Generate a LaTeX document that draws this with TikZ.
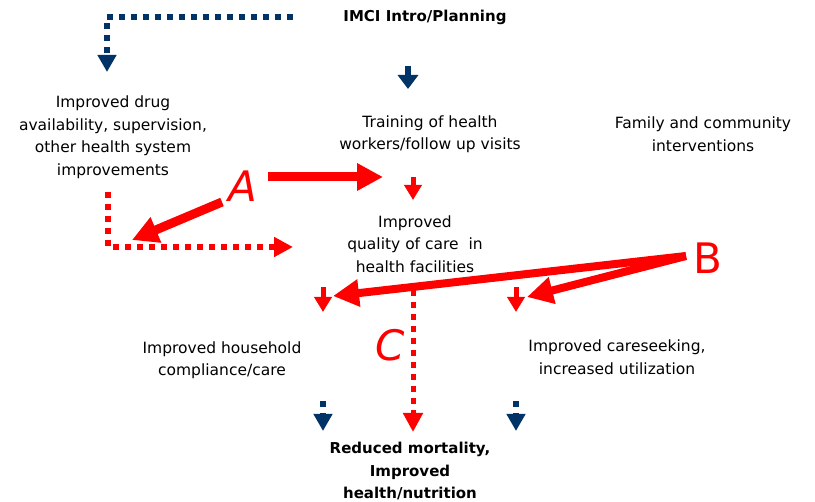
\documentclass[tikz,border=0pt]{standalone}
\usepackage{fontspec}
\setmainfont{DejaVu Sans}
\usetikzlibrary{arrows.meta, positioning}

\definecolor{navy}{RGB}{0,51,102}
\definecolor{imcired}{RGB}{255,0,0}

\tikzset{
  lbl/.style={align=center, inner sep=0pt, font=\fontsize{15.5}{22.5}\selectfont},
  boldlbl/.style={lbl, font=\fontsize{15}{22.5}\selectfont\bfseries},
  letter/.style={inner sep=0pt, text=imcired, font=\fontsize{42}{42}\selectfont},
  % dotted navy and red connectors
  bluedots/.style={draw=navy, line width=6pt, dash pattern=on 6pt off 6pt,
    -{Triangle[length=17pt,width=18pt]}},
  reddots/.style={draw=imcired, line width=6pt, dash pattern=on 6pt off 6pt,
    -{Triangle[length=19pt,width=19pt]}},
  % solid arrows
  bluestub/.style={draw=navy, line width=6pt, -{Triangle[length=14pt,width=20pt]}},
  redstub/.style={draw=imcired, line width=5pt, -{Triangle[length=15pt,width=17pt]}},
  redfat/.style={draw=imcired, line width=9pt, -{Triangle[length=26pt,width=26pt]}}
}

\begin{document}
\begin{tikzpicture}[x=1pt, y=-1pt]
\useasboundingbox (0,0) rectangle (815,502);

% Boxes of the framework
\node[boldlbl] (intro) at (425,17) {IMCI Intro/Planning};
\node[lbl] (drug) at (113,137) {Improved drug\\availability, supervision,\\other health system\\improvements};
\node[lbl] (training) at (430,134) {Training of health\\workers/follow up visits};
\node[lbl] (family) at (703,134) {Family and community\\interventions};
\node[lbl] (quality) at (415,244) {Improved\\quality of care\ \ in\\health facilities};
\node[lbl] (household) at (222,360) {Improved household\\compliance/care};
\node[lbl] (careseek) at (617,357) {Improved careseeking,\\increased utilization};
\node[boldlbl] (outcome) at (410,471) {Reduced mortality,\\Improved\\health/nutrition};

% Big letters
\node[letter, font=\fontsize{42}{42}\selectfont\itshape] (A) at (243,186) {A};
\node[letter] (B) at (708,258) {B};
\node[letter, font=\fontsize{42}{42}\selectfont\itshape] (C) at (390,345) {C};

% End points of the arrows
\coordinate (introL) at (293,17);
\coordinate (drugIn) at (107,72);
\coordinate (trainTop) at (408,66);
\coordinate (trainIn) at (408,89);
\coordinate (qualTop) at (413,177);
\coordinate (qualIn) at (413,200);
\coordinate (drugOut) at (108,192);
\coordinate (qualLeft) at (293,247);
\coordinate (Aright) at (268,177);
\coordinate (trainLeft) at (383,177);
\coordinate (Aleft) at (222,202);
\coordinate (drugCorner) at (132,240);
\coordinate (Btip) at (686,256);
\coordinate (Bhold) at (333,296);
\coordinate (Bcare) at (527,297);
\coordinate (holdTop) at (323,287);
\coordinate (holdIn) at (323,312);
\coordinate (careTop) at (516,287);
\coordinate (careIn) at (516,312);
\coordinate (qualOut) at (413,290);
\coordinate (outIn) at (413,432);
\coordinate (holdOut) at (323,401);
\coordinate (outLeft) at (323,431);
\coordinate (careOut) at (516,401);
\coordinate (outRight) at (516,431);

% Navy flow
\draw[bluedots] (introL) -| (drugIn);
\draw[bluestub] (trainTop) -- (trainIn);
\draw[bluedots] (holdOut) -- (outLeft);
\draw[bluedots] (careOut) -- (outRight);

% Red flow
\draw[redstub] (qualTop) -- (qualIn);
\draw[reddots] (drugOut) |- (qualLeft);
\draw[redfat] (Aright) -- (trainLeft);
\draw[redfat] (Aleft) -- (drugCorner);
\draw[redfat, line width=8pt] (Btip) -- (Bhold);
\draw[redfat, line width=8pt] (Btip) -- (Bcare);
\draw[redstub] (holdTop) -- (holdIn);
\draw[redstub] (careTop) -- (careIn);
\draw[reddots, line width=5pt] (qualOut) -- (outIn);
\end{tikzpicture}
\end{document}
